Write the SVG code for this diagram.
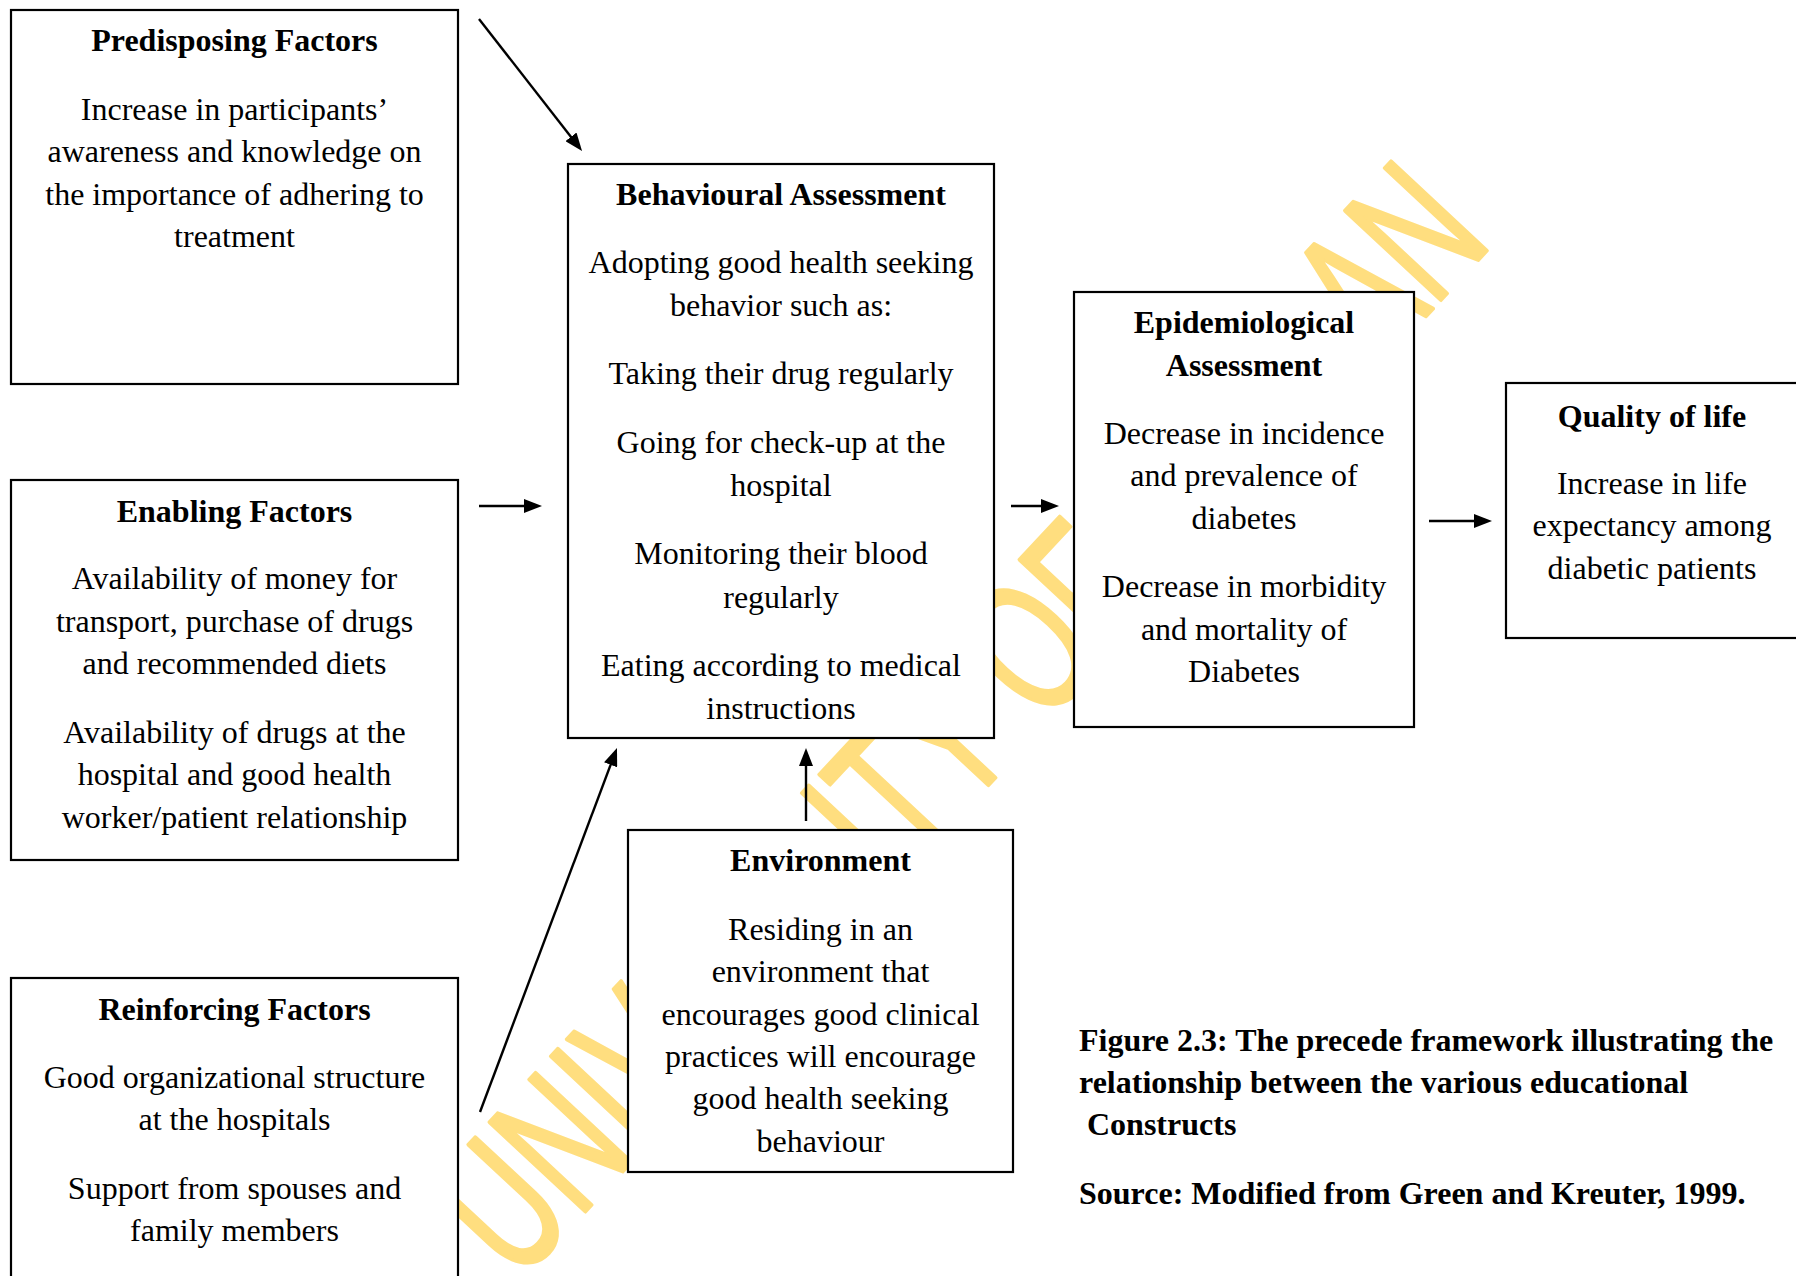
<svg xmlns="http://www.w3.org/2000/svg" width="1796" height="1276" viewBox="0 0 1796 1276">
  <defs>
    <marker id="arrow" viewBox="0 0 18 14" refX="9" refY="7" markerWidth="18" markerHeight="14" markerUnits="userSpaceOnUse" orient="auto">
      <path d="M0,0 L18,7 L0,14 z" fill="#000"/>
    </marker>
    <style>
      .box { fill: #fff; stroke: #000; stroke-width: 2.2; }
      .t { font-family: "Liberation Serif", "Times New Roman", serif; font-size: 32px; fill: #000; text-anchor: middle; }
      .b { font-weight: bold; }
      .cap { font-family: "Liberation Serif", "Times New Roman", serif; font-size: 32px; font-weight: bold; fill: #000; }
      .conn { stroke: #000; stroke-width: 2.4; fill: none; marker-end: url(#arrow); }
      .wm { font-family: "Liberation Sans", Arial, sans-serif; font-size: 190px; fill: #FFDE7F; stroke: #FFDE7F; stroke-width: 4; stroke-linejoin: round; }
    </style>
  </defs>
  <rect x="0" y="0" width="1796" height="1276" fill="#fff"/>

  <g id="watermark">
    <text class="wm" transform="translate(517.5,1284) rotate(-47) scale(0.646,1)">UNIV</text>
    <text class="wm" transform="translate(889.5,891.1) rotate(-47) scale(0.646,1)">ITY</text>
    <text class="wm" transform="translate(1042.9,726.6) rotate(-47) scale(0.646,1)">OF</text>
    <text class="wm" transform="translate(1317.3,432.5) rotate(-47) scale(0.646,1)">DAN</text>
  </g>

  <g id="connectors">
    <line class="conn" x1="479" y1="19" x2="576.5" y2="143.9"/>
    <line class="conn" x1="479" y1="506" x2="533" y2="506"/>
    <line class="conn" x1="1011" y1="506" x2="1050" y2="506"/>
    <line class="conn" x1="1429" y1="521" x2="1483" y2="521"/>
    <line class="conn" x1="480" y1="1112" x2="613.8" y2="756.4"/>
    <line class="conn" x1="806" y1="821" x2="806" y2="757"/>
  </g>

  <g id="predisposing">
    <rect class="box" x="11" y="10" width="447" height="374"/>
    <text class="t b" x="234.5" y="51">Predisposing Factors</text>
    <text class="t" x="234.5" y="120">Increase in participants’</text>
    <text class="t" x="234.5" y="162">awareness and knowledge on</text>
    <text class="t" x="234.5" y="205">the importance of adhering to</text>
    <text class="t" x="234.5" y="247">treatment</text>
  </g>

  <g id="enabling">
    <rect class="box" x="11" y="480" width="447" height="380"/>
    <text class="t b" x="234.5" y="522">Enabling Factors</text>
    <text class="t" x="234.5" y="589">Availability of money for</text>
    <text class="t" x="234.5" y="632">transport, purchase of drugs</text>
    <text class="t" x="234.5" y="674">and recommended diets</text>
    <text class="t" x="234.5" y="743">Availability of drugs at the</text>
    <text class="t" x="234.5" y="785">hospital and good health</text>
    <text class="t" x="234.5" y="828">worker/patient relationship</text>
  </g>

  <g id="reinforcing">
    <rect class="box" x="11" y="978" width="447" height="310"/>
    <text class="t b" x="234.5" y="1020">Reinforcing Factors</text>
    <text class="t" x="234.5" y="1088">Good organizational structure</text>
    <text class="t" x="234.5" y="1130">at the hospitals</text>
    <text class="t" x="234.5" y="1199">Support from spouses and</text>
    <text class="t" x="234.5" y="1241">family members</text>
  </g>

  <g id="behavioural">
    <rect class="box" x="568" y="164" width="426" height="574"/>
    <text class="t b" x="781" y="205">Behavioural Assessment</text>
    <text class="t" x="781" y="273">Adopting good health seeking</text>
    <text class="t" x="781" y="316">behavior such as:</text>
    <text class="t" x="781" y="384">Taking their drug regularly</text>
    <text class="t" x="781" y="453">Going for check-up at the</text>
    <text class="t" x="781" y="496">hospital</text>
    <text class="t" x="781" y="564">Monitoring their blood</text>
    <text class="t" x="781" y="608">regularly</text>
    <text class="t" x="781" y="676">Eating according to medical</text>
    <text class="t" x="781" y="719">instructions</text>
  </g>

  <g id="environment">
    <rect class="box" x="628" y="830" width="385" height="342"/>
    <text class="t b" x="820.5" y="871">Environment</text>
    <text class="t" x="820.5" y="940">Residing in an</text>
    <text class="t" x="820.5" y="982">environment that</text>
    <text class="t" x="820.5" y="1025">encourages good clinical</text>
    <text class="t" x="820.5" y="1067">practices will encourage</text>
    <text class="t" x="820.5" y="1109">good health seeking</text>
    <text class="t" x="820.5" y="1152">behaviour</text>
  </g>

  <g id="epidemiological">
    <rect class="box" x="1074" y="292" width="340" height="435"/>
    <text class="t b" x="1244" y="333">Epidemiological</text>
    <text class="t b" x="1244" y="376">Assessment</text>
    <text class="t" x="1244" y="444">Decrease in incidence</text>
    <text class="t" x="1244" y="486">and prevalence of</text>
    <text class="t" x="1244" y="529">diabetes</text>
    <text class="t" x="1244" y="597">Decrease in morbidity</text>
    <text class="t" x="1244" y="640">and mortality of</text>
    <text class="t" x="1244" y="682">Diabetes</text>
  </g>

  <g id="quality">
    <rect class="box" x="1506" y="383" width="300" height="255"/>
    <text class="t b" x="1652" y="427">Quality of life</text>
    <text class="t" x="1652" y="494">Increase in life</text>
    <text class="t" x="1652" y="536">expectancy among</text>
    <text class="t" x="1652" y="579">diabetic patients</text>
  </g>

  <g id="caption">
    <text class="cap" x="1079" y="1051">Figure 2.3: The precede framework illustrating the</text>
    <text class="cap" x="1079" y="1093">relationship between the various educational</text>
    <text class="cap" x="1087" y="1135">Constructs</text>
    <text class="cap" x="1079" y="1204">Source: Modified from Green and Kreuter, 1999.</text>
  </g>
</svg>
